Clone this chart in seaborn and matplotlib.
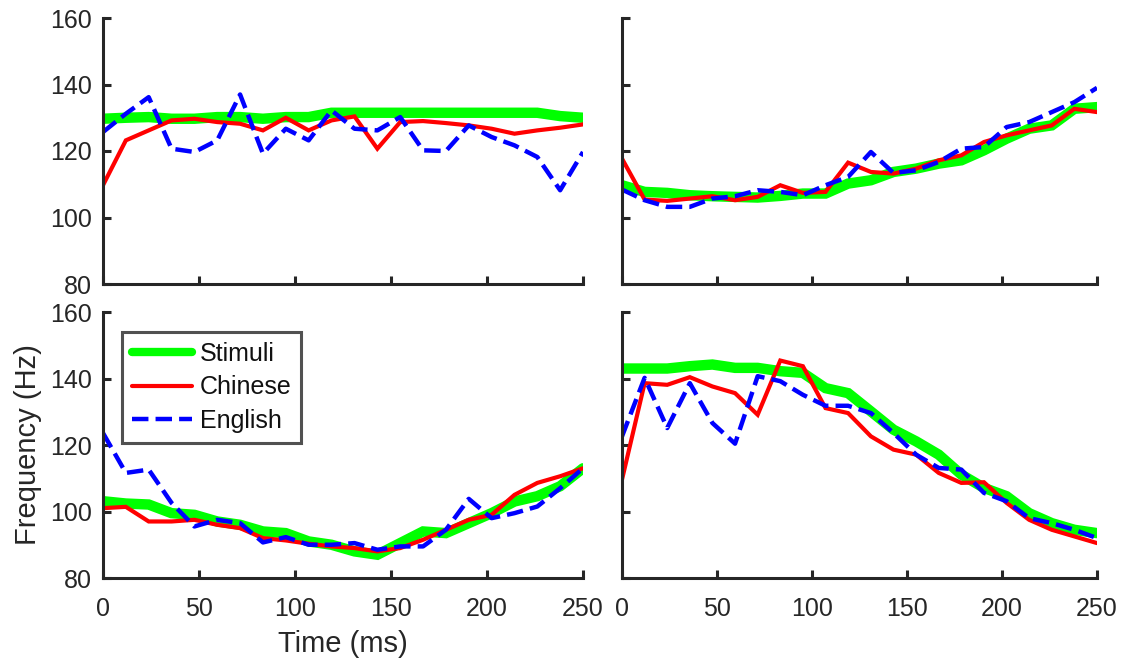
import numpy as np
import pandas as pd
import matplotlib
matplotlib.use("Agg")
import matplotlib.pyplot as plt
import seaborn as sns

time_ms = [0, 11.9, 23.8, 35.7, 47.6, 59.5, 71.4, 83.3, 95.2, 107.1, 119.0,
           131.0, 142.9, 154.8, 166.7, 178.6, 190.5, 202.4, 214.3, 226.2, 238.1, 250.0]

# Panel 1 (top-left)
p1_stimuli = [129.7, 130.0, 130.2, 129.7, 129.7, 130.2, 130.2, 129.7, 130.2, 130.2, 131.5,
              131.5, 131.5, 131.5, 131.5, 131.5, 131.5, 131.5, 131.5, 131.5, 130.5, 130.0]
p1_chinese = [109.7, 123.2, 126.2, 129.2, 129.7, 128.7, 128.2, 126.2, 130.0, 126.2, 129.2,
              130.4, 120.7, 128.7, 129.0, 128.4, 127.7, 126.7, 125.2, 126.2, 127.0, 128.0]
p1_english = [125.7, 131.2, 136.2, 120.7, 119.7, 123.2, 137.0, 119.2, 126.7, 123.2, 132.2,
              126.7, 126.2, 130.2, 120.2, 120.0, 127.7, 124.2, 121.7, 118.2, 108.2, 119.7]

# Panel 2 (top-right)
p2_stimuli = [109.7, 107.7, 107.4, 106.7, 106.4, 106.2, 106.0, 106.5, 107.2, 107.2, 110.2,
              111.2, 113.7, 114.7, 116.2, 117.2, 120.2, 123.7, 126.7, 127.7, 132.7, 133.2]
p2_chinese = [117.7, 105.4, 105.0, 105.7, 106.4, 105.2, 106.2, 109.7, 107.4, 107.7, 116.5,
              113.7, 113.2, 114.7, 117.2, 118.7, 122.7, 124.7, 126.2, 127.7, 132.7, 131.7]
p2_english = [108.4, 105.2, 103.2, 103.2, 105.7, 106.4, 108.2, 107.7, 106.7, 109.7, 112.2,
              119.7, 113.4, 114.2, 116.7, 120.7, 121.2, 127.2, 128.7, 131.7, 134.7, 139.0]

# Panel 3 (bottom-left)
p3_stimuli = [103.1, 102.4, 102.1, 99.5, 99.0, 97.0, 96.0, 94.0, 93.5, 91.0, 90.0,
              88.0, 87.0, 90.5, 94.0, 93.5, 96.5, 99.5, 103.0, 104.6, 107.6, 113.0]
p3_chinese = [101.0, 101.4, 97.0, 97.0, 97.5, 96.0, 95.0, 92.0, 91.3, 90.3, 89.5,
              89.0, 88.0, 89.0, 91.5, 94.5, 97.5, 99.0, 105.0, 108.6, 110.6, 113.0]
p3_english = [123.6, 111.6, 112.6, 102.6, 95.5, 97.5, 96.5, 90.7, 92.3, 90.0, 90.0,
              90.5, 88.5, 89.5, 89.5, 94.5, 103.8, 98.0, 99.5, 101.5, 107.0, 113.0]

# Panel 4 (bottom-right)
p4_stimuli = [143.0, 143.0, 143.0, 143.7, 144.2, 143.2, 143.2, 142.2, 141.7, 137.1, 135.6,
              130.1, 124.6, 121.1, 117.1, 111.1, 107.1, 104.6, 99.5, 96.5, 94.5, 93.5]
p4_chinese = [109.6, 138.6, 138.1, 140.4, 137.6, 135.6, 129.1, 145.4, 143.7, 131.1, 129.6,
              122.6, 118.6, 117.1, 111.6, 108.6, 108.8, 102.6, 97.5, 94.5, 92.5, 90.5]
p4_english = [122.6, 140.2, 125.1, 138.6, 126.6, 120.4, 140.7, 139.2, 135.1, 131.8, 131.8,
              129.6, 123.6, 117.1, 113.1, 112.6, 105.6, 103.1, 98.0, 96.5, 94.5, 92.0]

series_names = ["Stimuli", "Chinese", "English"]
y_ticks = [80, 100, 120, 140, 160]
x_ticks = [0, 50, 100, 150, 200, 250]

panels = [
    (p1_stimuli, p1_chinese, p1_english),
    (p2_stimuli, p2_chinese, p2_english),
    (p3_stimuli, p3_chinese, p3_english),
    (p4_stimuli, p4_chinese, p4_english),
]

sns.set_style("ticks")
plt.rcParams['font.family'] = ['Liberation Sans', 'DejaVu Sans']

fig = plt.figure(figsize=(11.28, 6.64), dpi=100)

W, H = 1128, 664
pos = [
    (103, 18, 583, 284),
    (622, 18, 1097, 284),
    (103, 312, 583, 578),
    (622, 312, 1097, 578),
]

styles = {
    "Stimuli": dict(color="#00FF00", lw=7.5, dashes=None),
    "Chinese": dict(color="#FF0000", lw=3.0, dashes=None),
    "English": dict(color="#0000FF", lw=3.2, dashes=(3.7, 1.6)),
}

spine_col = "#262626"
axes = []
for i, ((x0, y0, x1, y1), vals) in enumerate(zip(pos, panels)):
    ax = fig.add_axes([x0 / W, 1 - y1 / H, (x1 - x0) / W, (y1 - y0) / H])
    axes.append(ax)
    for name, v in zip(series_names, vals):
        df = pd.DataFrame({"Time": time_ms, "Freq": v})
        st = styles[name]
        sns.lineplot(data=df, x="Time", y="Freq", ax=ax, color=st["color"],
                     linewidth=st["lw"], label=name, legend=False)
        line = ax.lines[-1]
        line.set_solid_joinstyle("miter")
        if st["dashes"] is not None:
            line.set_linestyle((0, st["dashes"]))
    ax.set_xlim(0, 250)
    ax.set_ylim(80, 160)
    ax.set_xticks(x_ticks)
    ax.set_yticks(y_ticks)
    ax.set_xlabel("")
    ax.set_ylabel("")
    for s in ["top", "right"]:
        ax.spines[s].set_visible(False)
    for s in ["left", "bottom"]:
        ax.spines[s].set_color(spine_col)
        ax.spines[s].set_linewidth(2.2)
    ax.tick_params(direction="in", length=6, width=2.2, color=spine_col,
                   labelsize=18, labelcolor="#262626")
    ax.tick_params(axis="x", pad=14)
    ax.tick_params(axis="y", pad=8)
    if i in (0, 1):
        ax.tick_params(labelbottom=False)
    if i in (1, 3):
        ax.tick_params(labelleft=False)

ax3 = axes[2]
ax3.set_xlabel("Time (ms)", fontsize=21, color="#262626", labelpad=6)
ax3.set_ylabel("Frequency (Hz)", fontsize=21, color="#262626", labelpad=6)

leg = ax3.legend(loc="upper left", bbox_to_anchor=(0.04, 0.925), borderaxespad=0,
                 fontsize=18, handlelength=2.4, handletextpad=0.3, labelspacing=0.38,
                 borderpad=0.4, frameon=True, fancybox=False)
leg.get_frame().set_edgecolor("#262626")
leg.get_frame().set_linewidth(2.2)
for t in leg.get_texts():
    t.set_color("#111111")
leg.get_lines()[0].set_linewidth(6)

fig.savefig("out.png", dpi=100)
